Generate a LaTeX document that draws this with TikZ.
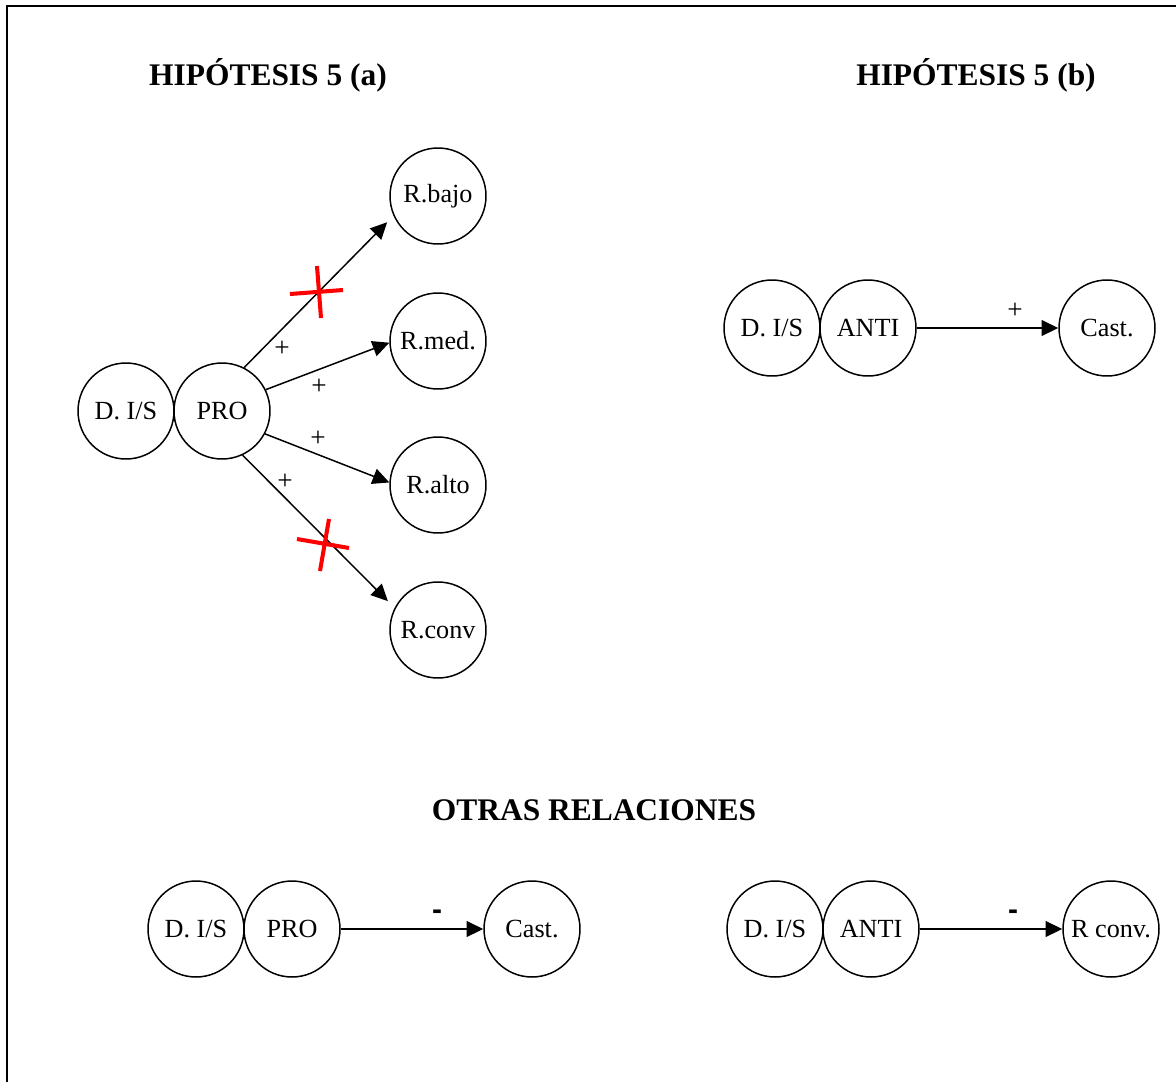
\documentclass[tikz,border=0pt]{standalone}
\usepackage{fontspec}
\setmainfont{Liberation Serif}
\newfontfamily\dashfont{Liberation Sans}
\usetikzlibrary{arrows.meta}
\begin{document}
\begin{tikzpicture}[x=0.02cm,y=-0.02cm,
  circnode/.style={circle,draw,line width=0.85pt,minimum size=1.92cm,inner sep=0pt,font=\fontsize{14.9}{16}\selectfont},
  title/.style={font=\fontsize{17.9}{20}\selectfont\bfseries},
  lbl/.style={inner sep=0pt,font=\fontsize{15.5}{17}\selectfont},
  dashlbl/.style={inner sep=0pt,font=\fontsize{17}{18}\selectfont\bfseries\dashfont},
  conn/.style={line width=0.85pt,-{Triangle[length=9.5pt,width=9pt]}},
  redx/.style={red,line width=2.3pt}]
\useasboundingbox (0,0) rectangle (1176,1082);
\fill[white] (0,0) rectangle (1176,1082);
% frame
\draw[line width=1.2pt] (7,1082) -- (7,6) -- (1176,6);
% titles
\node[title] (ta) at (268,75) {HIPÓTESIS 5 (a)};
\node[title] (tb) at (976,75) {HIPÓTESIS 5 (b)};
\node[title] (tc) at (594,810) {OTRAS RELACIONES};
% hypothesis 5(a)
\node[circnode] (dis1) at (126,411) {D. I/S};
\node[circnode] (pro1) at (222,411) {PRO};
\node[circnode] (rbajo) at (438,196) {R.bajo};
\node[circnode] (rmed) at (438,341) {R.med.};
\node[circnode] (ralto) at (438,485) {R.alto};
\node[circnode] (rconv) at (438,630) {R.conv};
\draw[conn,shorten >=0.18cm] (pro1.63) -- (rbajo.204.3);
\draw[conn] (pro1.26) -- (rmed.182);
\draw[conn] (pro1.-28) -- (ralto.177);
\draw[conn,shorten >=0.19cm] (pro1.-65) -- (rconv.153.9);
\node[lbl] (p1) at (282,349) {+};
\node[lbl] (p2) at (319,387) {+};
\node[lbl] (p3) at (318,439) {+};
\node[lbl] (p4) at (285,482) {+};
% red crosses
\draw[redx] (290,294) -- (343,290);
\draw[redx] (317,266) -- (321,318);
\draw[redx] (297,539) -- (349,548);
\draw[redx] (329,519) -- (320,571);
% hypothesis 5(b)
\node[circnode] (dis2) at (772,328) {D. I/S};
\node[circnode] (anti2) at (868,328) {ANTI};
\node[circnode] (cast2) at (1107,328) {Cast.};
\draw[conn] (anti2) -- (cast2);
\node[lbl] (p5) at (1015,311) {+};
% otras relaciones
\node[circnode] (dis3) at (196,929) {D. I/S};
\node[circnode] (pro3) at (292,929) {PRO};
\node[circnode] (cast3) at (532,929) {Cast.};
\draw[conn] (pro3) -- (cast3);
\node[dashlbl] (m1) at (437,915) {-};
\node[circnode] (dis4) at (775,929) {D. I/S};
\node[circnode] (anti4) at (871,929) {ANTI};
\node[circnode] (rconv4) at (1111,929) {R conv.};
\draw[conn] (anti4) -- (rconv4);
\node[dashlbl] (m2) at (1013,915) {-};
\end{tikzpicture}
\end{document}
